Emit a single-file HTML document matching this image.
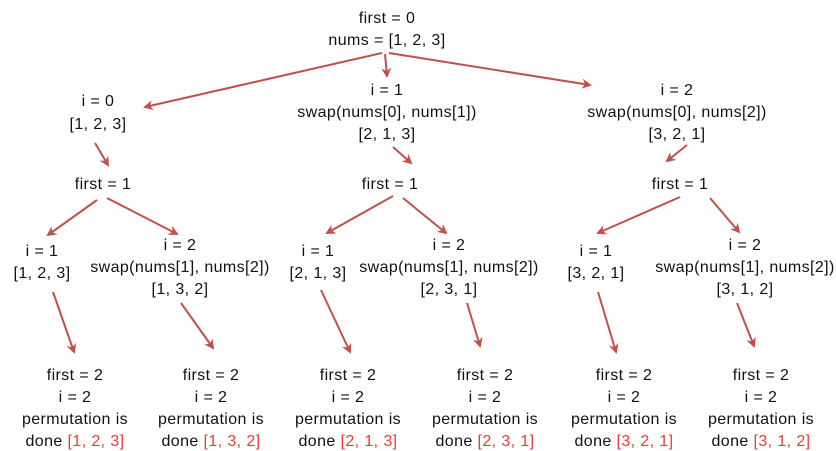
<!DOCTYPE html>
<html><head><meta charset="utf-8"><style>
html,body{margin:0;padding:0;background:#fff;width:836px;height:451px;overflow:hidden}
text{font-family:"Liberation Sans",sans-serif;font-size:16px;letter-spacing:0.4px;fill:#111;text-anchor:middle}
.r{fill:#f03a3a}
line{stroke:#c0504d;stroke-width:2;marker-end:url(#a)}
</style></head><body>
<svg width="836" height="451" viewBox="0 0 836 451">
<defs><marker id="a" markerWidth="10" markerHeight="10" refX="8" refY="5" orient="auto" markerUnits="userSpaceOnUse"><path d="M0,0 L10,5 L0,10 L3,5 z" fill="#c0504d"/></marker></defs>
<text x="387" y="23">first = 0</text>
<text x="387" y="45">nums = [1, 2, 3]</text>
<line x1="382" y1="53" x2="145" y2="107"/>
<line x1="385" y1="54" x2="387" y2="76"/>
<line x1="389" y1="53" x2="590" y2="85"/>
<text x="98" y="106">i = 0</text><text x="98" y="129">[1, 2, 3]</text>
<text x="387" y="95">i = 1</text><text x="387" y="117">swap(nums[0], nums[1])</text><text x="387" y="139">[2, 1, 3]</text>
<text x="677" y="95">i = 2</text><text x="677" y="117">swap(nums[0], nums[2])</text><text x="677" y="139">[3, 2, 1]</text>
<line x1="95" y1="143" x2="108" y2="165"/>
<line x1="393" y1="147" x2="411" y2="163"/>
<line x1="687" y1="145" x2="667" y2="161"/>
<text x="103" y="189">first = 1</text><text x="390" y="189">first = 1</text><text x="680" y="189">first = 1</text>
<line x1="97" y1="200" x2="48" y2="235"/><line x1="107" y1="198" x2="177" y2="234"/>
<line x1="393" y1="196" x2="327" y2="233"/><line x1="403" y1="198" x2="446" y2="233"/>
<line x1="680" y1="197" x2="598" y2="233"/><line x1="710" y1="198" x2="739" y2="232"/>
<text x="42" y="256">i = 1</text><text x="42" y="278">[1, 2, 3]</text>
<text x="180" y="250">i = 2</text><text x="180" y="272">swap(nums[1], nums[2])</text><text x="180" y="294">[1, 3, 2]</text>
<text x="318" y="256">i = 1</text><text x="318" y="278">[2, 1, 3]</text>
<text x="449" y="250">i = 2</text><text x="449" y="272">swap(nums[1], nums[2])</text><text x="449" y="294">[2, 3, 1]</text>
<text x="596" y="256">i = 1</text><text x="596" y="278">[3, 2, 1]</text>
<text x="745" y="250">i = 2</text><text x="745" y="272">swap(nums[1], nums[2])</text><text x="745" y="294">[3, 1, 2]</text>
<line x1="53" y1="292" x2="74" y2="352"/>
<line x1="181" y1="303" x2="213" y2="348"/>
<line x1="321" y1="290" x2="350" y2="352"/>
<line x1="467" y1="303" x2="480" y2="346"/>
<line x1="598" y1="292" x2="616" y2="352"/>
<line x1="737" y1="303" x2="754" y2="346"/>
<g>
<text x="75" y="380">first = 2</text><text x="75" y="402">i = 2</text><text x="75" y="424">permutation is</text><text x="75" y="446">done <tspan class="r">[1, 2, 3]</tspan></text>
<text x="211" y="380">first = 2</text><text x="211" y="402">i = 2</text><text x="211" y="424">permutation is</text><text x="211" y="446">done <tspan class="r">[1, 3, 2]</tspan></text>
<text x="348" y="380">first = 2</text><text x="348" y="402">i = 2</text><text x="348" y="424">permutation is</text><text x="348" y="446">done <tspan class="r">[2, 1, 3]</tspan></text>
<text x="485" y="380">first = 2</text><text x="485" y="402">i = 2</text><text x="485" y="424">permutation is</text><text x="485" y="446">done <tspan class="r">[2, 3, 1]</tspan></text>
<text x="624" y="380">first = 2</text><text x="624" y="402">i = 2</text><text x="624" y="424">permutation is</text><text x="624" y="446">done <tspan class="r">[3, 2, 1]</tspan></text>
<text x="761" y="380">first = 2</text><text x="761" y="402">i = 2</text><text x="761" y="424">permutation is</text><text x="761" y="446">done <tspan class="r">[3, 1, 2]</tspan></text>
</g>
</svg>
</body></html>
